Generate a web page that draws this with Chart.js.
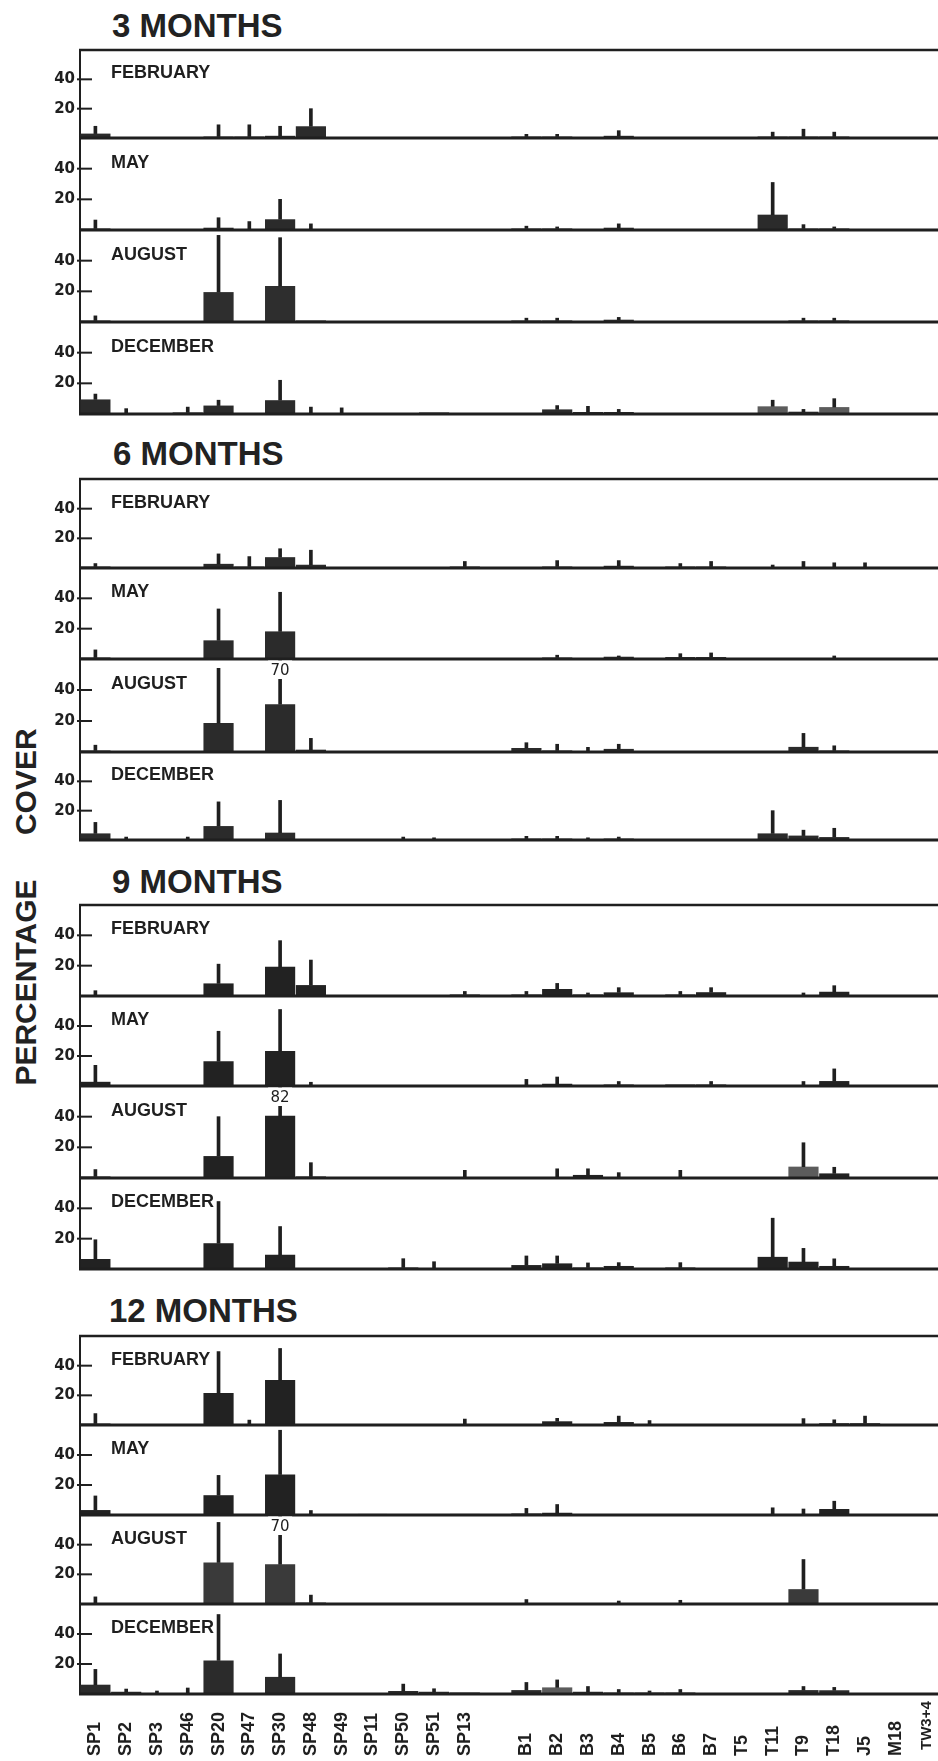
<!DOCTYPE html>
<html>
<head>
<meta charset="utf-8">
<script src="https://cdn.jsdelivr.net/npm/chart.js@4.4.1/dist/chart.umd.min.js"></script>
<style>
  html, body { margin: 0; padding: 0; background: #fff; width: 938px; height: 1761px; overflow: hidden; }
  body { position: relative; }
  canvas { position: absolute; left: 0; display: block; }
  .period { position: absolute; font: bold 33px "Liberation Sans", Arial, sans-serif; line-height: 33px; color: #222; white-space: nowrap; }
  #ylabel { position: absolute; left: 26px; top: 907px; transform: translate(-50%, -50%) rotate(-90deg);
            font: bold 30px "Liberation Sans", Arial, sans-serif; line-height: 30px; color: #222; white-space: nowrap; word-spacing: 36px; }
</style>
</head>
<body>
<div class="period" style="left:112px;top:9px">3 MONTHS</div>
<div class="period" style="left:113px;top:437px">6 MONTHS</div>
<div class="period" style="left:112px;top:865px">9 MONTHS</div>
<div class="period" style="left:109px;top:1294px">12 MONTHS</div>
<div id="ylabel">PERCENTAGE COVER</div>
<script>
// sites along the transect (blank slot separates SP and B/T sites)
const sites = ['SP1','SP2','SP3','SP46','SP20','SP47','SP30','SP48','SP49','SP11','SP50','SP51','SP13','',
               'B1','B2','B3','B4','B5','B6','B7','T5','T11','T9','T18','J5','M18','TW3+4'];
const months = ['FEBRUARY','MAY','AUGUST','DECEMBER'];

// mean % cover and top of error bar, 3 months
const feb3    = [3,0,0,0,1,1,1.5,8,0,0,0,0,0,null,1,1,0,1.5,0,0,0,0,1,1,1,0,0,0];
const feb3Top = [8,0,0,0,9,9,8,20,0,0,0,0,0,null,2.5,2.5,0,5,0,0,0,0,4,6,4,0,0,0];
const may3    = [1,0,0,0,1.5,0,7,0.5,0,0,0,0,0,null,1,1,0,1.5,0,0,0,0,10,1,1,0,0,0];
const may3Top = [6.5,0,0,0,8,5.5,20,4,0,0,0,0,0,null,2.5,2,0,4,0,0,0,0,31,3.5,2,0,0,0];
const aug3    = [1,0,0,0,19.5,0,23.5,1,0,0,0,0,0,null,1,1,0,1.5,0,0,0,0,0,1,1,0,0,0];
const aug3Top = [4,0,0,0,56.5,0,55,0,0,0,0,0,0,null,2.5,2.5,0,3,0,0,0,0,0,2.5,2.5,0,0,0];
const dec3    = [9.5,0,0,1,5.5,0,9,0,0,0,0.5,1,0,null,0,3,1.3,1.3,0,0,0,0,5,1.5,4.5,0,0,0];
const dec3Top = [13,3.5,0,4.5,9,0,22,4.5,4,0,0,0,0,null,0,5.5,5,3,0,0,0,0,9,3,10,0,0,0];

// 6 months
const feb6    = [1,0,0,0,2.8,1,7.3,2.2,0,0,0,0,1,null,0,1,0,1.5,0,1,1,0,0.5,0.5,0.5,0.7,0,0];
const feb6Top = [3,0,0,0,9.5,7.7,13,12,0,0,0,0,4.4,null,0,5,0,5,0,3,4.4,0,2,4.4,3.5,3.5,0,0];
const may6    = [1,0,0,0,12.3,0,18.2,0,0,0,0,0,0,null,0,1,0,1.5,0,1.3,1.3,0,0,0,0.5,0,0,0];
const may6Top = [6,0,0,0,33,0,44,0,0,0,0,0,0,null,0,2.5,0,2,0,3.5,4,0,0,0,2,0,0,0];
const aug6    = [1,0,0,0,18.7,0,30.8,1.5,0,0,0,0,0,null,2.6,1,0.5,2,0,0,0,0,0,3.3,1,0,0,0];
const aug6Top = [4.4,0,0,0,54,0,70,8.8,0,0,0,0,0,null,6,5,3,5,0,0,0,0,0,12,4,0,0,0];
const dec6    = [4.5,0,0,0,9.5,0,5,0,0,0,0.5,0.5,0,null,1,1,0,1,0,0,0,0,4.5,3,2,0,0,0];
const dec6Top = [12,2,0,2,26,0,27,0,0,0,2,1.5,0,null,2.5,2.5,1.5,2,0,0,0,0,20,6.7,8,0,0,0];

// 9 months
const feb9    = [0,0,0,0,8.3,0,19.3,7.2,0,0,0,0,1,null,1,4.6,1,2.4,0,1,2.5,0,0,0.5,2.8,0,0,0];
const feb9Top = [3.5,0,0,0,21,0,36.5,23.7,0,0,0,0,3,null,3,8.3,2,5.5,0,3,5.5,0,0,2,6.8,0,0,0];
const may9    = [2.8,0,0,0,16.5,0,23.3,0,0,0,0,0,0,null,0.5,1.5,0,1,0,1,1,0,0,0,3.3,0,0,0];
const may9Top = [13.8,0,0,0,36.5,0,51,2.5,0,0,0,0,0,null,4.4,6,0,3,0,0,3,0,0,3,11.4,0,0,0];
const aug9    = [1,0,0,0,14.3,0,40.6,1,0,0,0,0,0,null,0,0,2,0,0,0,0,0,0,7.4,3,0,0,0];
const aug9Top = [5.5,0,0,0,40,0,82,10,0,0,0,0,5,null,0,6,6,3.5,0,5,0,0,0,23,7,0,0,0];
const dec9    = [6.6,0,0,0,17,0,9.4,0,0,0,1,0,0,null,2.6,3.7,1,2,0,1,0,0,8,4.8,2,0,0,0];
const dec9Top = [19.3,0,0,0,44.5,0,28,0,0,0,6.8,4.8,0,null,8.6,8.6,4,4.2,0,4.2,0,0,33.5,13.6,6.7,0,0,0];

// 12 months
const feb12    = [1,0,0,0,21.6,0,30.3,0,0,0,0,0,0.5,null,0,2.5,0,2,0,0,0,0,0,0.5,1.2,1.2,0,0];
const feb12Top = [7.7,0,0,0,49.5,3.3,51.6,0,0,0,0,0,4,null,0,4.5,0,6,3,0,0,0,0,4.3,3.5,6,0,0];
const may12    = [3.3,0,0,0,13.2,0,27,0,0,0.7,0,0,0.7,null,1,1.5,0,0,0,0,0,0,0,0,4,0,0,0];
const may12Top = [12.7,0,0,0,26.4,0,56.5,3,0,0,0,0,0,null,4.4,7,0,0,0,0,0,0,4.8,4,9.2,0,0,0];
const aug12    = [0.5,0,0,0,28,0,26.8,1,0,0,0,0,0,null,0,0,0,0,0,0,0,0,0,10,0,0,0,0];
const aug12Top = [4.8,0,0,0,55,0,70,6,0,0,0,0,0,null,3,0,0,2,0,2.5,0,0,0,30,0,0,0,0];
const dec12    = [6.2,1.5,0,0,22.4,0,11.4,0,0,0,2,1.5,1,null,2.6,4.4,1.5,1,1,1,0,0,0,2.6,2.5,0,0,0];
const dec12Top = [16.4,3.3,2,4,53,0,26.7,0,0,0,6.6,3.5,0,null,7.7,9.4,5,3,2,3,0,0,0,5,4.4,0,0,0];

const ink = '#1f1f1f';

// y of the frame lines for each block (top border, then each panel's baseline)
const groups = [
  { lines: [50, 138, 230, 322, 414],
    panels: [[feb3, feb3Top], [may3, may3Top], [aug3, aug3Top], [dec3, dec3Top]],
    fill: ['#2b2b2b', '#2b2b2b', '#2e2e2e', '#2b2b2b'], light: [[], [], [], [22, 24]] },
  { lines: [479, 568, 659, 752, 840],
    panels: [[feb6, feb6Top], [may6, may6Top], [aug6, aug6Top], [dec6, dec6Top]],
    fill: ['#2b2b2b', '#2b2b2b', '#2b2b2b', '#2b2b2b'], light: [[], [], [], []] },
  { lines: [905, 996, 1086, 1178, 1269],
    panels: [[feb9, feb9Top], [may9, may9Top], [aug9, aug9Top], [dec9, dec9Top]],
    fill: ['#222', '#222', '#222', '#222'], light: [[], [], [23], []] },
  { lines: [1336, 1425, 1515, 1604, 1694],
    panels: [[feb12, feb12Top], [may12, may12Top], [aug12, aug12Top], [dec12, dec12Top]],
    fill: ['#222', '#222', '#3a3a3a', '#2b2b2b'], light: [[], [], [], [15]] }
];

// frame, ticks, month name, off-scale values and site names
function decor(month, tops, first, names) {
  return {
    id: 'decor',
    afterDatasetsDraw(chart) {
      const { ctx, chartArea: a, scales: { x, y } } = chart;
      ctx.save();
      ctx.strokeStyle = ink;
      ctx.fillStyle = ink;
      ctx.lineWidth = 3;
      ctx.beginPath();
      ctx.moveTo(a.left - 1, y.getPixelForValue(0));
      ctx.lineTo(a.right, y.getPixelForValue(0));
      ctx.stroke();
      if (first) {
        ctx.lineWidth = 2.5;
        ctx.beginPath();
        ctx.moveTo(a.left - 1, a.top);
        ctx.lineTo(a.right, a.top);
        ctx.stroke();
      }
      ctx.lineWidth = 2;
      [20, 40].forEach(v => {
        const py = y.getPixelForValue(v);
        ctx.beginPath();
        ctx.moveTo(a.left - 3, py);
        ctx.lineTo(a.left + 12, py);
        ctx.stroke();
      });
      ctx.font = 'bold 18px "Liberation Sans", Arial, sans-serif';
      ctx.textAlign = 'left';
      ctx.textBaseline = 'alphabetic';
      ctx.fillText(month, a.left + 31, y.getPixelForValue(40) - 1);

      // error bars running off the top get their value written in
      ctx.font = '15px "DejaVu Sans", sans-serif';
      ctx.textAlign = 'center';
      ctx.textBaseline = 'middle';
      tops.forEach((v, i) => {
        if (v > 60) {
          const px = x.getPixelForValue(i);
          ctx.fillStyle = '#fff';
          ctx.fillRect(px - 12, a.top + 1.5, 24, 18.5);
          ctx.fillStyle = ink;
          ctx.fillText(String(v), px, a.top + 12);
        }
      });

      if (names) {
        ctx.textAlign = 'left';
        sites.forEach((s, i) => {
          if (!s) return;
          const px = x.getPixelForValue(i);
          const small = s.length > 4;
          ctx.font = (small ? 'bold 15px' : 'bold 18px') + ' "Liberation Sans", Arial, sans-serif';
          ctx.save();
          ctx.translate(px, a.bottom + (small ? 56 : 62));
          ctx.rotate(-Math.PI / 2);
          ctx.fillText(s, 0, 0);
          ctx.restore();
        });
      }
      ctx.restore();
    }
  };
}

groups.forEach((g, gi) => {
  g.panels.forEach(([mean, tops], k) => {
    const top = g.lines[k], bottom = g.lines[k + 1];
    const last = gi === groups.length - 1 && k === 3;
    const padTop = 10, padBottom = last ? 1761 - bottom : 10;
    const cv = document.createElement('canvas');
    cv.width = 942;
    cv.height = bottom - top + padTop + padBottom;
    cv.style.top = (top - padTop) + 'px';
    document.body.appendChild(cv);

    const light = g.light[k];
    const whiskers = mean.map((m, i) => (tops[i] && tops[i] > (m || 0)) ? [m || 0, tops[i]] : null);

    new Chart(cv, {
      type: 'bar',
      data: {
        labels: sites,
        datasets: [
          { data: mean, grouped: false, order: 2, borderWidth: 0,
            barPercentage: 1, categoryPercentage: 0.98,
            backgroundColor: c => light.includes(c.dataIndex) ? '#5c5c5c' : g.fill[k] },
          { data: whiskers, grouped: false, order: 1, borderWidth: 0,
            barThickness: 3, clip: 0, backgroundColor: ink }
        ]
      },
      options: {
        responsive: false,
        animation: false,
        events: [],
        layout: { padding: { top: padTop, bottom: padBottom, left: 0, right: 0 } },
        plugins: { legend: { display: false }, tooltip: { enabled: false } },
        scales: {
          x: { display: false, offset: true },
          y: {
            min: 0, max: 60,
            // fixed axis width, and no extra room for the end labels
            afterFit: s => { s.width = 80; s.paddingTop = 0; s.paddingBottom = 0; },
            ticks: {
              stepSize: 20,
              padding: 5,
              color: ink,
              font: { family: '"DejaVu Sans", sans-serif', size: 15, weight: 'bold' },
              callback: v => (v === 20 || v === 40) ? v : ''
            },
            grid: { display: false, drawTicks: false, tickLength: 0 },
            border: { display: true, width: 2, color: ink }
          }
        }
      },
      plugins: [decor(months[k], tops, k === 0, last)]
    });
  });
});
</script>
</body>
</html>
